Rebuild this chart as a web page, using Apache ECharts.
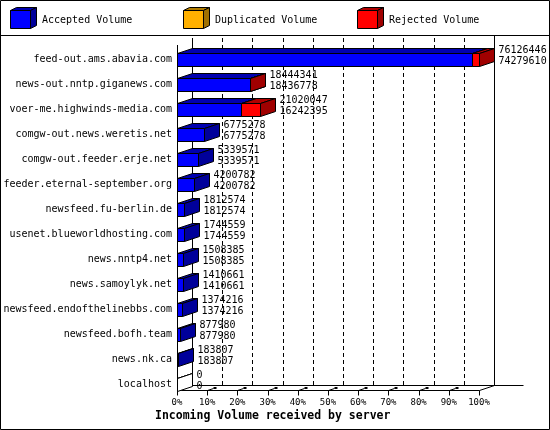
<!DOCTYPE html>
<html><head><meta charset="utf-8">
<script src="https://cdn.jsdelivr.net/npm/echarts@6/dist/echarts.min.js"></script>
<style>html,body{margin:0;padding:0;background:#fff}#c{width:550px;height:430px}</style>
</head><body><div id="c"></div>
<script>
const hosts = [
  'feed-out.ams.abavia.com',
  'news-out.nntp.giganews.com',
  'voer-me.highwinds-media.com',
  'comgw-out.news.weretis.net',
  'comgw-out.feeder.erje.net',
  'feeder.eternal-september.org',
  'newsfeed.fu-berlin.de',
  'usenet.blueworldhosting.com',
  'news.nntp4.net',
  'news.samoylyk.net',
  'newsfeed.endofthelinebbs.com',
  'newsfeed.bofh.team',
  'news.nk.ca',
  'localhost'
];
const totalVolume      = [76126446, 18444341, 21020047, 6775278, 5339571, 4200782, 1812574, 1744559, 1508385, 1410661, 1374216, 877980, 183807, 0];
const acceptedVolume   = [74279610, 18436778, 16242395, 6775278, 5339571, 4200782, 1812574, 1744559, 1508385, 1410661, 1374216, 877980, 183807, 0];
const duplicatedVolume = [0, 0, 0, 0, 0, 0, 0, 0, 0, 0, 0, 0, 0, 0];
const rejectedVolume   = [1846836, 7563, 4777652, 0, 0, 0, 0, 0, 0, 0, 0, 0, 0, 0];
const seriesNames = ['Accepted Volume', 'Duplicated Volume', 'Rejected Volume'];
const xTickValues = [0, 10, 20, 30, 40, 50, 60, 70, 80, 90, 100];
const axisTitle = 'Incoming Volume received by server';

const FONT = '"DejaVu Sans Mono", "Liberation Mono", monospace';
const DX = 15, DY = -5, BAR_H = 13;
const maxTotal = Math.max(...totalVolume);
const pct = v => v / maxTotal * 100;
const palette = [
  {front: '#0000ff', top: '#0000b0', side: '#00009a'},
  {front: '#ffb000', top: '#b07c00', side: '#a07000'},
  {front: '#ff0000', top: '#b00000', side: '#a00000'}
];
const WHITE = {front: '#ffffff', top: '#ffffff', side: '#ffffff'};
const snap = v => Math.round(v) + 0.5;

function box(xa, xb, yt, yb, c, dx, dy) {
  const st = {stroke: '#000', lineWidth: 1};
  return [
    {type: 'polygon', shape: {points: [[xa, yt], [xb, yt], [xb + dx, yt + dy], [xa + dx, yt + dy]]}, style: Object.assign({fill: c.top}, st)},
    {type: 'polygon', shape: {points: [[xb, yt], [xb + dx, yt + dy], [xb + dx, yb + dy], [xb, yb]]}, style: Object.assign({fill: c.side}, st)},
    {type: 'rect', shape: {x: xa, y: yt, width: xb - xa, height: yb - yt}, style: Object.assign({fill: c.front}, st)}
  ];
}

function renderFrame(params, api) {
  const last = hosts.length - 1;
  const x0 = snap(api.coord([0, 0])[0]);
  const x100 = snap(api.coord([100, 0])[0]);
  const top = params.coordSys.y;
  const floorY = snap(api.coord([0, last])[1] + BAR_H / 2 - 1);
  const backTop = top - 9;
  const ch = [];
  const ln = (a, b, c, d, dash) => ch.push({type: 'line', shape: {x1: a, y1: b, x2: c, y2: d},
    style: {stroke: '#000', lineWidth: 1, lineDash: dash || null}});
  xTickValues.forEach(v => {
    if (v > 0 && v < 100) {
      const xb = snap(api.coord([v, 0])[0]) + DX;
      ln(xb, backTop, xb, floorY + DY, [4, 3]);
    }
  });
  ln(x0 + DX, backTop, x0 + DX, floorY + DY);
  ln(x100 + DX, backTop - 2, x100 + DX, floorY + DY);
  ln(x0, top - 2, x0, floorY);
  ln(x0 + DX, floorY + DY, x100 + DX + 29, floorY + DY);
  ln(x0, floorY, x100, floorY);
  ln(x100, floorY, x100 + DX, floorY + DY);
  ln(x0, floorY, x0 + DX, floorY + DY);
  xTickValues.forEach(v => {
    const xf = snap(api.coord([v, 0])[0]);
    ln(xf, floorY, xf, floorY + 5);
    if (v < 100) {
      ln(xf, floorY, xf + 6, floorY - 2);
      ch.push({type: 'rect', shape: {x: xf + 6, y: floorY - 3.5, width: 3, height: 2}, style: {fill: '#000'}});
    }
  });
  return {type: 'group', children: ch};
}

function renderBars(params, api) {
  const i = api.value(0);
  const base = api.coord([0, i]);
  const yc = base[1];
  const yt = Math.round(yc - BAR_H / 2) + 0.5;
  const yb = yt + BAR_H;
  const vals = [api.value(1), api.value(2), api.value(3)];
  const total = api.value(4);
  let ch = [];
  let cum = 0;
  let xEnd = snap(base[0]);
  if (total === 0) {
    ch = ch.concat(box(xEnd, xEnd, yt, yb, WHITE, DX, DY));
  } else {
    vals.forEach((v, k) => {
      if (v > 0) {
        const xa = snap(api.coord([pct(cum), i])[0]);
        const xb = snap(api.coord([pct(cum + v), i])[0]);
        ch = ch.concat(box(xa, xb, yt, yb, palette[k], DX, DY));
        xEnd = xb;
      }
      cum += v;
    });
  }
  const tx = xEnd + DX + 4;
  const ts = {fill: '#000', font: '10px ' + FONT, textVerticalAlign: 'middle', textAlign: 'left'};
  ch.push({type: 'text', style: Object.assign({text: String(total), x: tx, y: yc - 9}, ts)});
  ch.push({type: 'text', style: Object.assign({text: String(api.value(1)), x: tx, y: yc + 2}, ts)});
  return {type: 'group', children: ch};
}

const legendGraphics = [];
[10, 183, 357].forEach((lx, k) => {
  legendGraphics.push({type: 'group', children:
    box(lx + 0.5, lx + 20.5, 10.5, 28.5, palette[k], 6, -3).concat([
      {type: 'text', style: {text: seriesNames[k], x: lx + 32, y: 20, fill: '#000', font: '10px ' + FONT, textVerticalAlign: 'middle'}}
    ])});
});
legendGraphics.push({type: 'line', shape: {x1: 0, y1: 35.5, x2: 550, y2: 35.5}, style: {stroke: '#000', lineWidth: 1}});
legendGraphics.push({type: 'rect', shape: {x: 0.5, y: 0.5, width: 549, height: 429}, style: {fill: null, stroke: '#000', lineWidth: 1}});

const chart = echarts.init(document.getElementById('c'), null, {renderer: 'canvas'});
chart.setOption({
  animation: false,
  backgroundColor: '#fff',
  title: {text: axisTitle, left: 155, top: 410, padding: 0,
    textStyle: {fontFamily: FONT, fontWeight: 'bold', fontSize: 11.5, color: '#000'}},
  graphic: legendGraphics,
  grid: {left: 177, right: 71, top: 47, bottom: 33},
  xAxis: {type: 'value', min: 0, max: 100, interval: 10,
    axisLine: {show: false}, axisTick: {show: false}, splitLine: {show: false},
    axisLabel: {formatter: '{value}%', fontFamily: FONT, fontSize: 9, color: '#000', margin: 1}},
  yAxis: {type: 'category', inverse: true, data: hosts,
    axisLine: {show: false}, axisTick: {show: false}, splitLine: {show: false},
    axisLabel: {fontFamily: FONT, fontSize: 10, color: '#000', margin: 5}},
  series: [
    {type: 'custom', name: 'frame', renderItem: renderFrame, data: [[0, 0]], encode: {x: 0, y: 1}, z: 1, silent: true},
    {type: 'custom', name: 'volume', renderItem: renderBars, z: 2,
      data: hosts.map((h, i) => [i, acceptedVolume[i], duplicatedVolume[i], rejectedVolume[i], totalVolume[i]]),
      encode: {y: 0, x: 4}}
  ]
});
</script></body></html>
